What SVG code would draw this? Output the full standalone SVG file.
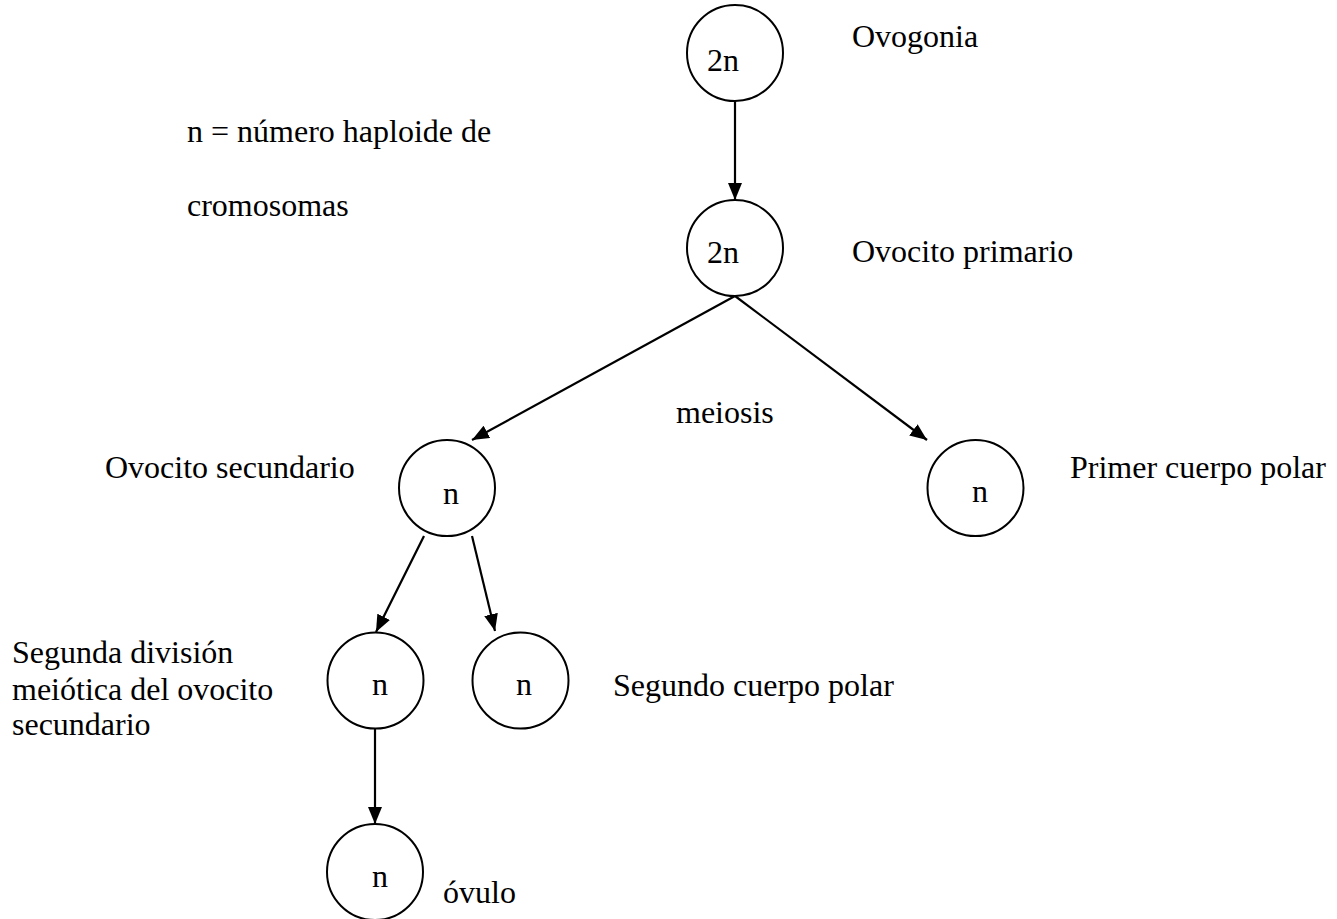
<svg xmlns="http://www.w3.org/2000/svg" width="1337" height="919" viewBox="0 0 1337 919">
<defs>
<marker id="ah" markerUnits="userSpaceOnUse" markerWidth="18" markerHeight="14" refX="17" refY="7" orient="auto">
<path d="M0,0 L17,7 L0,14 z" fill="#000"/>
</marker>
<style>
.c{fill:#fff;stroke:#000;stroke-width:2}
.t{font-family:"Liberation Serif","Times New Roman",serif;font-size:32px;fill:#000}
.e{stroke:#000;stroke-width:2.2;fill:none;marker-end:url(#ah)}
</style>
</defs>
<rect width="1337" height="919" fill="#fff"/>
<g id="connectors">
<line class="e" x1="735" y1="101" x2="735" y2="200"/>
<line class="e" x1="735" y1="296" x2="472" y2="440"/>
<line class="e" x1="735" y1="296" x2="927" y2="440"/>
<line class="e" x1="424" y1="536" x2="376" y2="632"/>
<line class="e" x1="472" y1="536" x2="495" y2="631"/>
<line class="e" x1="375" y1="729" x2="375" y2="824"/>
</g>
<g id="ovogonia">
<circle class="c" cx="735" cy="53" r="48"/>
<text class="t" x="707" y="71">2n</text>
<text class="t" x="852" y="47">Ovogonia</text>
</g>
<g id="ovocito-primario">
<circle class="c" cx="735" cy="248" r="48"/>
<text class="t" x="707" y="263">2n</text>
<text class="t" x="852" y="262">Ovocito primario</text>
</g>
<g id="ovocito-secundario">
<circle class="c" cx="447" cy="488" r="48"/>
<text class="t" x="443" y="504">n</text>
<text class="t" x="105" y="478">Ovocito secundario</text>
</g>
<g id="primer-cuerpo-polar">
<circle class="c" cx="975.5" cy="488" r="48"/>
<text class="t" x="972" y="502">n</text>
<text class="t" x="1070" y="478">Primer cuerpo polar</text>
</g>
<g id="segunda-division">
<circle class="c" cx="375.5" cy="680.5" r="48"/>
<text class="t" x="372" y="695">n</text>
<text class="t" x="12" y="663">Segunda división</text>
<text class="t" x="12" y="700">meiótica del ovocito</text>
<text class="t" x="12" y="735">secundario</text>
</g>
<g id="segundo-cuerpo-polar">
<circle class="c" cx="520.5" cy="680.5" r="48"/>
<text class="t" x="516" y="695">n</text>
<text class="t" x="613" y="696">Segundo cuerpo polar</text>
</g>
<g id="ovulo">
<circle class="c" cx="375" cy="872" r="48"/>
<text class="t" x="372" y="887">n</text>
<text class="t" x="443" y="903">óvulo</text>
</g>
<g id="labels">
<text class="t" x="676" y="423">meiosis</text>
<text class="t" x="187" y="142">n = número haploide de</text>
<text class="t" x="187" y="216">cromosomas</text>
</g>
</svg>
